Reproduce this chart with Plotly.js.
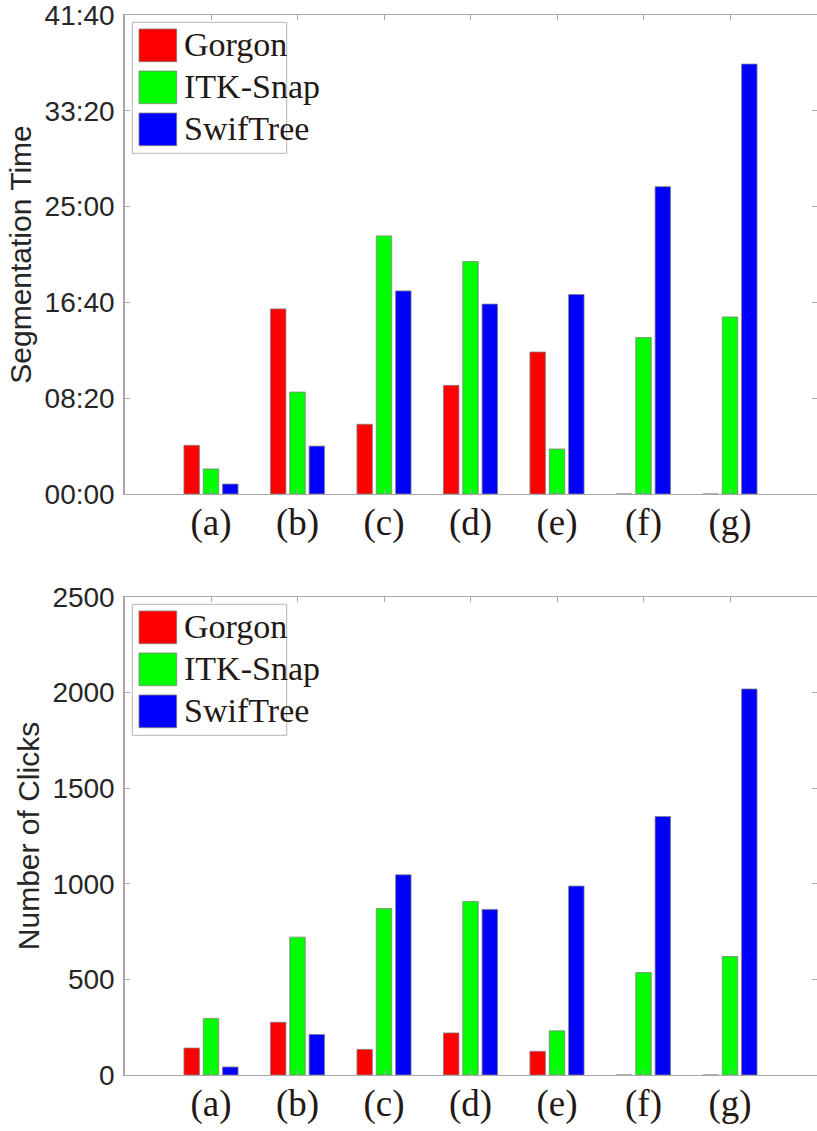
<!DOCTYPE html>
<html>
<head>
<meta charset="utf-8">
<script src="https://cdn.plot.ly/plotly-3.0.1.min.js"></script>
<style>html,body{margin:0;padding:0;background:#fff;}#chart{width:817px;height:1131px;}</style>
</head>
<body>
<div id="chart"></div>
<script>
// ---- data ----
var categories = ["(a)", "(b)", "(c)", "(d)", "(e)", "(f)", "(g)"];
var seriesNames = ["Gorgon", "ITK-Snap", "SwifTree"];
var seriesColors = ["#ff0000", "#00ff00", "#0000ff"];
// Segmentation time in seconds
var gorgonTime = [254, 966, 364, 567, 741, 0, 0];
var itkTime    = [131, 532, 1347, 1213, 235, 817, 924];
var swifTime   = [52, 250, 1060, 991, 1041, 1604, 2244];
// Number of clicks
var gorgonClicks = [141, 276, 134, 220, 124, 0, 0];
var itkClicks    = [296, 721, 871, 908, 231, 536, 620];
var swifClicks   = [42, 212, 1047, 866, 988, 1352, 2019];
var yTickVals = [0, 500, 1000, 1500, 2000, 2500];

function mmss(s) {
  var m = Math.floor(s / 60), r = s % 60;
  return (m < 10 ? "0" : "") + m + ":" + (r < 10 ? "0" : "") + r;
}

var W = 817, H = 1131;
function px(x) { return x / W; }
function py(y) { return 1 - y / H; }

var timeSeries = [gorgonTime, itkTime, swifTime];
var clickSeries = [gorgonClicks, itkClicks, swifClicks];
var traces = [];
for (var i = 0; i < 3; i++) {
  traces.push({type: "bar", x: categories, y: timeSeries[i], name: seriesNames[i],
    xaxis: "x", yaxis: "y", showlegend: false,
    marker: {color: seriesColors[i], line: {color: "#808080", width: 0.8}}});
}
for (var i = 0; i < 3; i++) {
  traces.push({type: "bar", x: categories, y: clickSeries[i], name: seriesNames[i],
    xaxis: "x2", yaxis: "y2", showlegend: false,
    marker: {color: seriesColors[i], line: {color: "#808080", width: 0.8}}});
}

var axisCol = "#a8a8a8";
var tickFont = {family: "Liberation Sans, Arial, sans-serif", size: 28, color: "#262626"};
var xFont = {family: "Liberation Serif, Times New Roman, serif", size: 37, color: "#231815"};
function xAxis(dom, anchor) {
  return {domain: dom, anchor: anchor, type: "category", range: [-1, 7],
    showline: true, linecolor: axisCol, linewidth: 1.2, mirror: "ticks",
    ticks: "inside", ticklen: 5, tickcolor: axisCol, showgrid: false, zeroline: false,
    tickfont: xFont, automargin: false, ticklabelstandoff: -5, ticklabeloverflow: "allow"};
}
function yAxis(dom, anchor, ticktext, title) {
  return {domain: dom, anchor: anchor, range: [0, 2500], tickvals: yTickVals, ticktext: ticktext,
    showline: true, linecolor: axisCol, linewidth: 1.2, mirror: "ticks",
    ticks: "inside", ticklen: 5, tickcolor: axisCol, showgrid: false, zeroline: false,
    tickfont: tickFont, automargin: false, ticklabelstandoff: 3, ticklabeloverflow: "allow",
    title: {text: title, font: {family: "Liberation Sans, Arial, sans-serif", size: 30, color: "#262626"}, standoff: 4}};
}

var xDom = [px(124.5), px(816.5)];
var topDom = [py(494), py(15)];
var botDom = [py(1075), py(597)];

// custom legends (drawn from seriesNames / seriesColors)
var shapes = [], annotations = [];
function addLegend(axisTop) {
  var off = axisTop - 15;
  shapes.push({type: "rect", xref: "paper", yref: "paper",
    x0: px(132.3), x1: px(286.7), y0: py(153.3 + off), y1: py(22.3 + off),
    line: {color: "#b4b4b4", width: 1}, fillcolor: "rgba(255,255,255,1)", layer: "above"});
  for (var i = 0; i < seriesNames.length; i++) {
    var top = 29 + 42 * i + off;
    shapes.push({type: "rect", xref: "paper", yref: "paper",
      x0: px(139), x1: px(176.7), y0: py(top + 32.7), y1: py(top),
      line: {color: "#808080", width: 0.8}, fillcolor: seriesColors[i], layer: "above"});
    annotations.push({xref: "paper", yref: "paper", x: px(182), y: py(top + 15.5),
      xanchor: "left", yanchor: "middle", showarrow: false, text: seriesNames[i],
      font: {family: "Liberation Serif, Times New Roman, serif", size: 34, color: "#231815"}});
  }
}
addLegend(15);
addLegend(597);

var layout = {
  width: W, height: H, margin: {l: 0, r: 0, t: 0, b: 0},
  paper_bgcolor: "#ffffff", plot_bgcolor: "#ffffff",
  showlegend: false, barmode: "group", bargap: 0.33, bargroupgap: 0.2,
  xaxis: xAxis(xDom, "y"), yaxis: yAxis(topDom, "x", yTickVals.map(mmss), "Segmentation Time"),
  xaxis2: xAxis(xDom, "y2"), yaxis2: yAxis(botDom, "x2", yTickVals.map(String), "Number of Clicks"),
  shapes: shapes, annotations: annotations
};

Plotly.newPlot("chart", traces, layout, {displayModeBar: false, staticPlot: true});
</script>
</body>
</html>
